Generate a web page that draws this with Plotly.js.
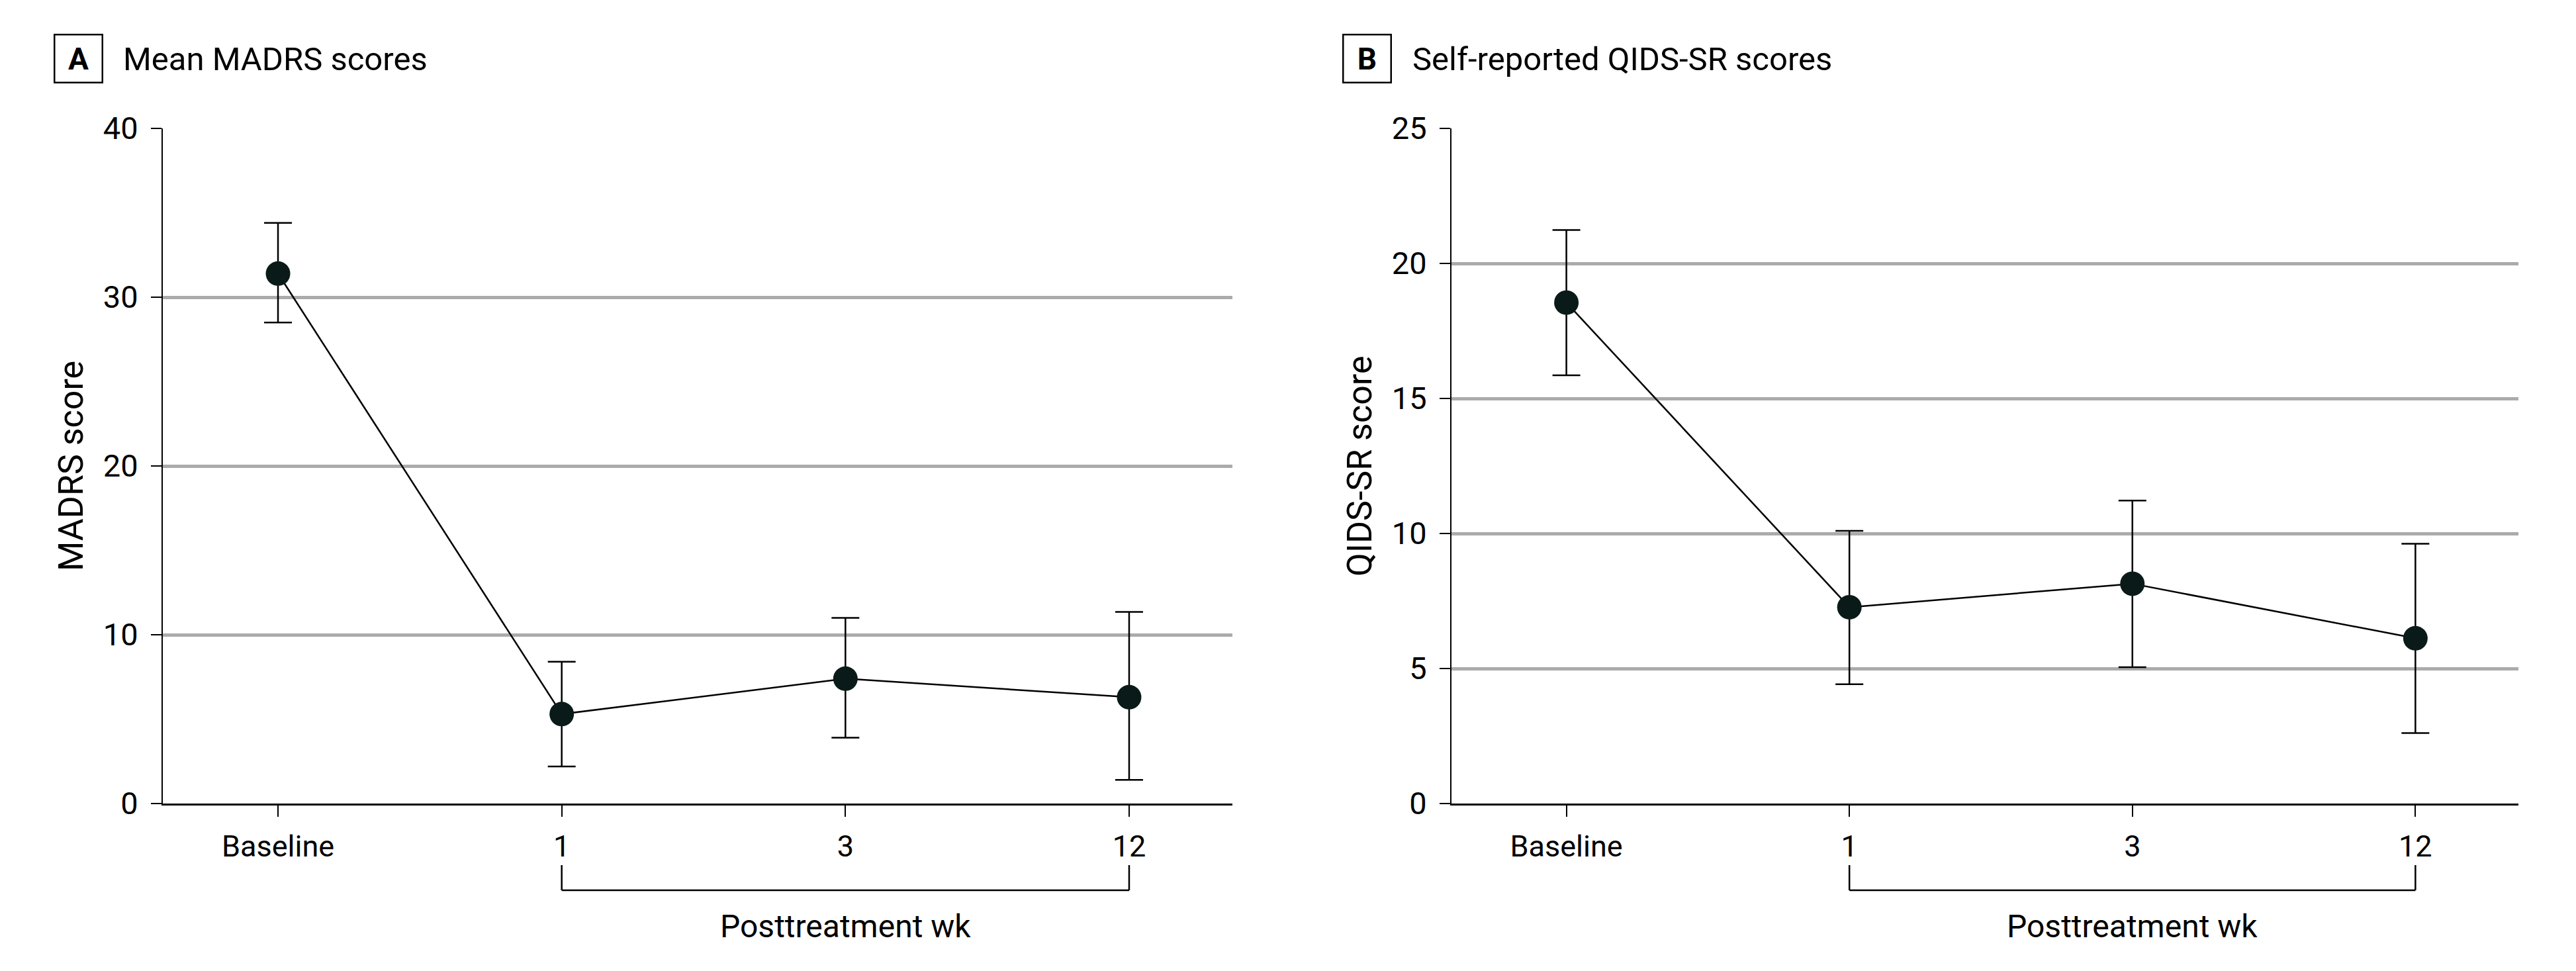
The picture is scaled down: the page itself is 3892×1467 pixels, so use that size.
<!DOCTYPE html>
<html>
<head>
<meta charset="utf-8">
<script src="https://cdn.plot.ly/plotly-3.0.1.min.js"></script>
<style>
  html, body { margin: 0; padding: 0; background: #fff; }
  #chart { width: 3892px; height: 1467px; }
</style>
</head>
<body>
<div id="chart"></div>
<script>
// time points
const cats = ['Baseline', '1', '3', '12'];

// panel A: MADRS
const madrsMean  = [31.4, 5.3, 7.4, 6.3];
const madrsUpper = [34.4, 8.4, 11.0, 11.35];
const madrsLower = [28.5, 2.2, 3.9, 1.4];

// panel B: QIDS-SR
const qidsMean  = [18.55, 7.27, 8.14, 6.12];
const qidsUpper = [21.24, 10.1, 11.22, 9.62];
const qidsLower = [15.86, 4.42, 5.05, 2.61];

const W = 3892, H = 1467;
const FONT = "'Liberation Sans Narrow', 'Arial Narrow', Roboto, sans-serif";
const dotColor = '#0a1a18';

function px(x) { return x / W; }
function py(y) { return 1 - y / H; }

function series(mean, upper, lower, xa, ya) {
    return {
        x: cats, y: mean, xaxis: xa, yaxis: ya,
        type: 'scatter', mode: 'lines+markers',
        line: { color: '#000', width: 2.5 },
        marker: { size: 37, color: dotColor },
        error_y: {
            type: 'data', symmetric: false,
            array: upper.map((u, i) => u - mean[i]),
            arrayminus: lower.map((l, i) => mean[i] - l),
            color: '#000', thickness: 2.5, width: 21
        },
        cliponaxis: false,
        showlegend: false, hoverinfo: 'skip'
    };
}

const data = [
    series(madrsMean, madrsUpper, madrsLower, 'x', 'y'),
    series(qidsMean, qidsUpper, qidsLower, 'x2', 'y2'),
];

const yDomain = [py(1214), py(194)];

function xAxis(domain, anchor) {
    return {
        domain: domain, anchor: anchor, type: 'category',
        range: [-0.406, 3.364],
        showline: true, linecolor: '#000', linewidth: 2.5,
        ticks: 'outside', ticklen: 17, tickwidth: 2, tickcolor: '#000',
        showgrid: false, zeroline: false,
        tickfont: { family: FONT, size: 45, color: '#000' },
        ticklabelstandoff: 6,
        fixedrange: true
    };
}

function yAxis(range, dtick, anchor) {
    return {
        domain: yDomain, anchor: anchor, range: range, dtick: dtick,
        showline: true, linecolor: '#000', linewidth: 2,
        ticks: 'outside', ticklen: 16, tickwidth: 2, tickcolor: '#000',
        showgrid: true, gridcolor: '#ababab', gridwidth: 5,
        zeroline: true, zerolinecolor: '#000', zerolinewidth: 2.5,
        tickfont: { family: FONT, size: 47, color: '#000' },
        ticklabelstandoff: 10,
        fixedrange: true
    };
}

const annotations = [];
const shapes = [];

function panelHeader(letter, title, boxX, titleX) {
    annotations.push({
        xref: 'paper', yref: 'paper', x: px(boxX), y: py(89),
        xanchor: 'center', yanchor: 'middle', showarrow: false,
        text: '<b>' + letter + '</b>', width: 70, height: 70,
        bordercolor: '#000', borderwidth: 2.5, borderpad: 0,
        font: { family: FONT, size: 46, color: '#000' }
    });
    annotations.push({
        xref: 'paper', yref: 'paper', x: px(titleX), y: py(90),
        xanchor: 'left', yanchor: 'middle', showarrow: false,
        text: title,
        font: { family: FONT, size: 49, color: '#000' }
    });
}

function yTitle(text, xPos) {
    annotations.push({
        xref: 'paper', yref: 'paper', x: px(xPos), y: py(704),
        xanchor: 'center', yanchor: 'middle', showarrow: false,
        textangle: -90, text: text,
        font: { family: FONT, size: 52, color: '#000' }
    });
}

function bracket(xref) {
    const i0 = cats.indexOf('1'), i1 = cats.indexOf('12'), im = cats.indexOf('3');
    const line = { color: '#000', width: 2.5 };
    shapes.push({ type: 'line', xref: xref, yref: 'paper', x0: i0, x1: i0, y0: py(1307), y1: py(1345), line: line });
    shapes.push({ type: 'line', xref: xref, yref: 'paper', x0: i1, x1: i1, y0: py(1307), y1: py(1345), line: line });
    shapes.push({ type: 'line', xref: xref, yref: 'paper', x0: i0, x1: i1, y0: py(1345), y1: py(1345), line: line });
    annotations.push({
        xref: xref, yref: 'paper', x: im, y: py(1399),
        xanchor: 'center', yanchor: 'middle', showarrow: false,
        text: 'Posttreatment wk',
        font: { family: FONT, size: 48, color: '#000' }
    });
}

panelHeader('A', 'Mean MADRS scores', 118, 184);
panelHeader('B', 'Self-reported QIDS-SR scores', 2065, 2132);
yTitle('MADRS score', 108);
yTitle('QIDS-SR score', 2055);
bracket('x');
bracket('x2');

const layout = {
    width: W, height: H,
    margin: { l: 0, r: 0, t: 0, b: 0 },
    paper_bgcolor: '#fff', plot_bgcolor: '#fff',
    font: { family: FONT, color: '#000' },
    xaxis: xAxis([px(246), px(1862)], 'y'),
    yaxis: yAxis([0, 40], 10, 'x'),
    xaxis2: xAxis([px(2193), px(3805)], 'y2'),
    yaxis2: yAxis([0, 25], 5, 'x2'),
    annotations: annotations,
    shapes: shapes,
    showlegend: false
};

Plotly.newPlot('chart', data, layout, { staticPlot: true });
</script>
</body>
</html>
